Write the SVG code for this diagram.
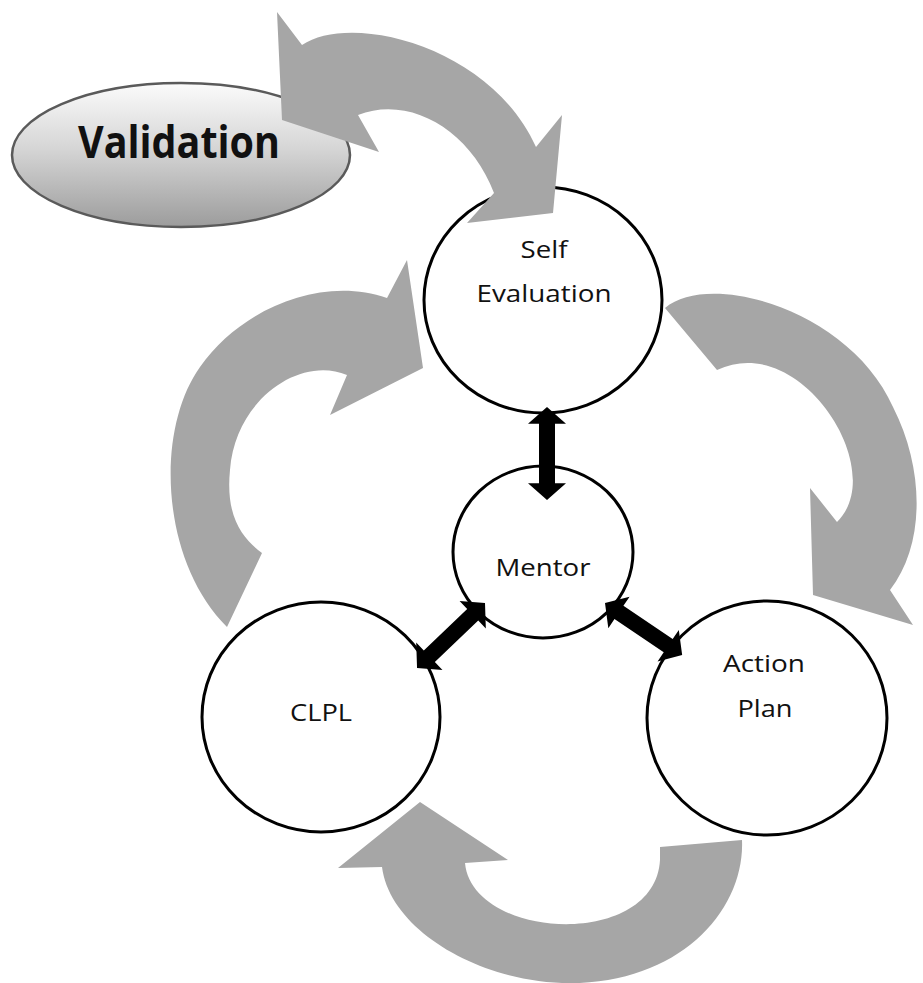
<svg xmlns="http://www.w3.org/2000/svg" width="923" height="983" viewBox="0 0 923 983">
<defs>
<linearGradient id="valGrad" x1="0" y1="0" x2="0" y2="1">
<stop offset="0" stop-color="#fbfbfb"/>
<stop offset="0.45" stop-color="#d6d6d6"/>
<stop offset="1" stop-color="#9c9c9c"/>
</linearGradient>
<path id="dbl" d="M0,0 L17,-19 L17,-8 L77,-8 L77,-19 L94,0 L77,19 L77,8 L17,8 L17,19 Z"/>
</defs>
<style>
.node{fill:#ffffff;stroke:#000000;stroke-width:3}
.lbl{font-family:"Open Sans","Liberation Sans",sans-serif;font-size:24px;fill:#111111;text-anchor:middle}
.cyc{fill:#a6a6a6;stroke:none}
.blk{fill:#000000}
</style>
<rect x="0" y="0" width="923" height="983" fill="#ffffff"/>
<g id="validation">
<ellipse cx="181" cy="155" rx="169" ry="72" fill="url(#valGrad)" stroke="#5a5a5a" stroke-width="2.5"/>
<text x="179" y="158" font-family="'Open Sans','Liberation Sans',sans-serif" font-size="44" font-weight="bold" fill="#111111" text-anchor="middle" textLength="202" lengthAdjust="spacingAndGlyphs">Validation</text>
</g>
<g id="self-evaluation">
<ellipse class="node" cx="543" cy="300" rx="119" ry="113"/>
<text class="lbl" x="544" y="258" textLength="47" lengthAdjust="spacingAndGlyphs">Self</text>
<text class="lbl" x="544" y="302" textLength="135" lengthAdjust="spacingAndGlyphs">Evaluation</text>
</g>
<g id="mentor">
<ellipse class="node" cx="543" cy="552" rx="90" ry="86" stroke-width="2.5"/>
<text class="lbl" x="543" y="576" textLength="95" lengthAdjust="spacingAndGlyphs">Mentor</text>
</g>
<g id="clpl">
<ellipse class="node" cx="321" cy="717" rx="119" ry="115"/>
<text class="lbl" x="321" y="721" textLength="62" lengthAdjust="spacingAndGlyphs">CLPL</text>
</g>
<g id="action-plan">
<ellipse class="node" cx="767" cy="718" rx="120" ry="117"/>
<text class="lbl" x="764" y="672" textLength="82" lengthAdjust="spacingAndGlyphs">Action</text>
<text class="lbl" x="765" y="717" textLength="55" lengthAdjust="spacingAndGlyphs">Plan</text>
</g>
<g id="connectors">
<path class="cyc" d="M282,120 L277,12 L302,45 C350,12 490,45 536,147 L562,115 L553,213 L467,223 L494,193 C470,130 410,95 358,115 L379,152 Z"/>
<path class="cyc" d="M665,308 C710,270 850,310 893,407 C925,470 925,545 890,590 L913,625 L813,595 L810,488 L837,522 C890,470 800,330 717,370 Z"/>
<path class="cyc" d="M660,847 L742,840 C745,910 680,983 570,983 C480,983 390,930 382,867 L338,868 L420,802 L508,860 L465,863 C472,940 655,950 660,860 Z"/>
<path class="cyc" d="M227,627 C160,560 155,430 200,367 C240,310 320,275 387,298 L407,260 L423,368 L330,415 L347,375 C300,355 235,400 230,470 C225,520 245,540 262,553 Z"/>
<use href="#dbl" class="blk" transform="translate(547,407) rotate(90) scale(0.99,1)"/>
<use href="#dbl" class="blk" transform="translate(485,603) rotate(136.3)"/>
<use href="#dbl" class="blk" transform="translate(605,603) rotate(34) scale(0.99,1)"/>
</g>
</svg>
